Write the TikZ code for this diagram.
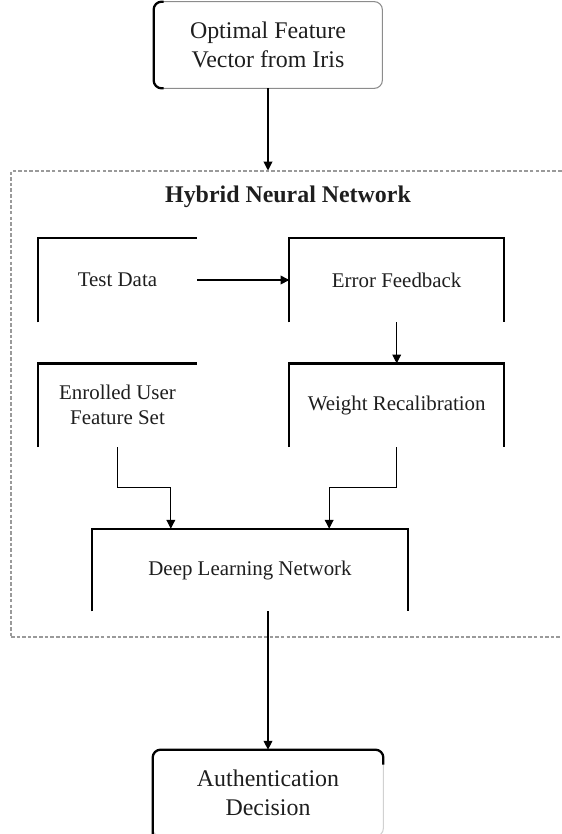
\documentclass[tikz,border=0pt]{standalone}
\usepackage{fontspec}
\setmainfont{Liberation Serif}
\usetikzlibrary{arrows.meta,positioning,calc}
\definecolor{FrameGray}{HTML}{8C8C8C}
\definecolor{DashGray}{HTML}{9A9A9A}
\definecolor{InkGray}{HTML}{1E1E1E}

\begin{document}
\begin{tikzpicture}[line join=miter,
  boxtext/.style={align=center,inner sep=0pt,text=InkGray,font=\fontsize{11.9}{14.2}\selectfont},
  endtext/.style={align=center,inner sep=0pt,text=InkGray,font=\fontsize{13.6}{16.4}\selectfont},
  headtext/.style={inner sep=0pt,text=InkGray,font=\bfseries\fontsize{13.6}{16.4}\selectfont},
  bracket/.style={line width=1.3pt},
  roundframe/.style={draw=FrameGray,line width=0.6pt,rounded corners=1.6mm},
  link/.style={line width=0.6pt,-{Triangle[width=5pt,length=5pt]}}]
  \clip (0,0) rectangle (11.24,-16.68);

  % input and output boxes
  \node[endtext,minimum width=4.56cm,minimum height=1.72cm] (opt) at (5.36,-0.9) {Optimal Feature\\Vector from Iris};
  \node[endtext,minimum width=4.6cm,minimum height=1.72cm] (ad) at (5.36,-15.86) {Authentication\\Decision};

  % hybrid network frame
  \node[draw=DashGray,line width=0.6pt,dash pattern=on 2pt off 1.2pt,inner sep=0pt,
        minimum width=11.08cm,minimum height=9.32cm] (hnn) at (5.76,-8.08) {};
  \node[headtext] (hnnt) at (5.76,-3.94) {Hybrid Neural Network};

  \node[boxtext,minimum width=3.18cm,minimum height=1.68cm] (td) at (2.35,-5.6) {Test Data};
  \node[boxtext,minimum width=4.28cm,minimum height=1.68cm,right=1.84cm of td] (ef) {Error Feedback};
  \node[boxtext,minimum width=3.18cm,minimum height=1.66cm,below=0.82cm of td] (eu) {Enrolled User\\Feature Set};
  \node[boxtext,minimum width=4.28cm,minimum height=1.66cm,below=0.82cm of ef] (wr) {Weight Recalibration};
  \node[boxtext,minimum width=6.32cm,minimum height=1.64cm] (dl) at (5.0,-11.4) {Deep Learning Network};

  \coordinate (dlin1) at ($(dl.north west)!0.25!(dl.north east)$);
  \coordinate (dlin2) at ($(dl.north west)!0.75!(dl.north east)$);

  % frames
  \draw[roundframe] (opt.south west) rectangle (opt.north east);
  \draw[bracket,rounded corners=1.6mm] ([xshift=2mm]opt.north west) -- (opt.north west) -- (opt.south west) -- ([xshift=2mm]opt.south west);
  \draw[roundframe,draw=FrameGray!40] (ad.south west) rectangle (ad.north east);
  \draw[bracket,rounded corners=1.6mm] (ad.south west) -- (ad.north west) -- (ad.north east) -- ([yshift=-3mm]ad.north east);
  \draw[bracket] (td.south west) -- (td.north west) -- (td.north east);
  \draw[bracket] (eu.south west) -- (eu.north west) -- (eu.north east);
  \draw[bracket] (ef.south west) -- (ef.north west) -- (ef.north east) -- (ef.south east);
  \draw[bracket] (wr.south west) -- (wr.north west) -- (wr.north east) -- (wr.south east);
  \draw[bracket] (dl.south west) -- (dl.north west) -- (dl.north east) -- (dl.south east);

  % connectors
  \draw[link] (opt.south) -- (opt.south |- hnn.north);
  \draw[link] (td.east) -- (ef.west);
  \draw[link] (ef.south) -- (wr.north);
  \draw[link] (eu.south) -- ++(0,-0.8) -| (dlin1);
  \draw[link] (wr.south) -- ++(0,-0.8) -| (dlin2);
  \draw[link] (dl.south -| ad.north) -- (ad.north);
\end{tikzpicture}
\end{document}
